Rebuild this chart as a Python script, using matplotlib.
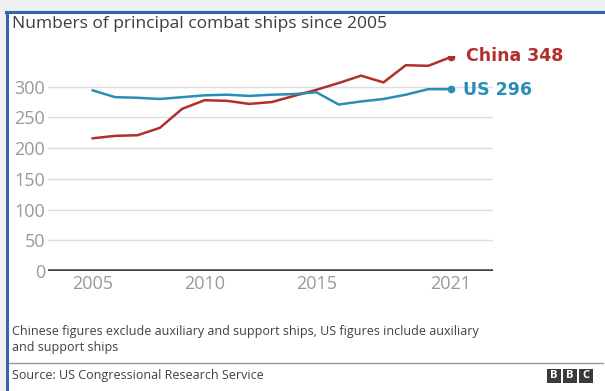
import matplotlib.pyplot as plt
from matplotlib.patches import Rectangle
from matplotlib.lines import Line2D

plt.rcParams['font.family'] = ['Open Sans', 'DejaVu Sans']

years = [2005, 2006, 2007, 2008, 2009, 2010, 2011, 2012, 2013,
         2014, 2015, 2016, 2017, 2018, 2019, 2020, 2021]
china = [216, 220, 221, 233, 264, 278, 277, 272, 275,
         285, 295, 306, 318, 307, 335, 334, 348]
us = [294, 283, 282, 280, 283, 286, 287, 285, 287,
      288, 291, 271, 276, 280, 287, 296, 296]
yticks = [0, 50, 100, 150, 200, 250, 300]
xticks = [2005, 2010, 2015, 2021]

red = '#b22f2b'
blue = '#2a8db5'

fig = plt.figure(figsize=(6.05, 3.91), dpi=100)
fig.patch.set_facecolor('#eef0f2')

# white card with blue border
W, H = 605, 391
card = Rectangle((7 / W, 0), 1, 1 - 12 / H, transform=fig.transFigure,
                 facecolor='white', edgecolor='none', zorder=-5)
fig.patches.append(card)
fig.add_artist(Line2D([7 / W, 7 / W], [0, 1 - 12 / H], color='#3563ad', lw=2.2,
                      transform=fig.transFigure))
fig.add_artist(Line2D([6 / W, 1], [1 - 12 / H, 1 - 12 / H], color='#3563ad', lw=2.2,
                      transform=fig.transFigure))

ax = fig.add_axes([48 / W, (H - 271) / H, 445 / W, 215 / H])
ax.set_facecolor('none')
ax.plot(years, china, color=red, lw=1.8, zorder=3)
ax.plot(years, us, color=blue, lw=1.8, zorder=3)
ax.plot(years[-1], china[-1], 'o', color=red, ms=4.5, zorder=4)
ax.plot(years[-1], us[-1], 'o', color=blue, ms=4.5, zorder=4)
ax.text(years[-1] + 0.7, china[-1] + 2, 'China %d' % china[-1], color=red,
        fontsize=12.5, fontweight='bold', family=['DejaVu Sans'],
        va='center', ha='left', clip_on=False)
ax.text(years[-1] + 0.55, us[-1] - 1, 'US %d' % us[-1], color=blue,
        fontsize=12.5, fontweight='bold', family=['DejaVu Sans'],
        va='center', ha='left', clip_on=False)

ax.set_xlim(2003, 2022.9)
ax.set_ylim(0, 350)
ax.set_yticks(yticks)
ax.set_xticks(xticks)
ax.grid(axis='y', color='#dedede', lw=1)
ax.axhline(0, color='#444444', lw=2.6, zorder=5)
for s in ax.spines.values():
    s.set_visible(False)
ax.tick_params(axis='both', length=0, labelsize=13, colors='#999999')
ax.tick_params(axis='x', pad=3)
ax.tick_params(axis='y', pad=2)

fig.text(12 / W, 1 - 24 / H, 'Numbers of principal combat ships since 2005',
         fontsize=12.5, color='#3d3d3d', va='center', ha='left')
fig.text(12 / W, 1 - 331 / H,
         'Chinese figures exclude auxiliary and support ships, US figures include auxiliary',
         fontsize=9, color='#404040', va='center', ha='left')
fig.text(12 / W, 1 - 348 / H, 'and support ships',
         fontsize=9, color='#404040', va='center', ha='left')
fig.add_artist(Line2D([9 / W, 603 / W], [1 - 363 / H, 1 - 363 / H], color='#9a9a9a',
                      lw=1, transform=fig.transFigure))
fig.text(12 / W, 1 - 376 / H, 'Source: US Congressional Research Service',
         fontsize=9, color='#404040', va='center', ha='left')

# BBC logo
for i, letter in enumerate('BBC'):
    x0 = (547 + i * 16) / W
    fig.patches.append(Rectangle((x0, 1 - 383 / H), 14 / W, 14 / H,
                                 transform=fig.transFigure, facecolor='#3a3a3a',
                                 edgecolor='none'))
    fig.text(x0 + 7 / W, 1 - 376 / H, letter, color='white', fontsize=8,
             fontweight='bold', ha='center', va='center')

fig.savefig('out.png', dpi=100, facecolor=fig.get_facecolor())
